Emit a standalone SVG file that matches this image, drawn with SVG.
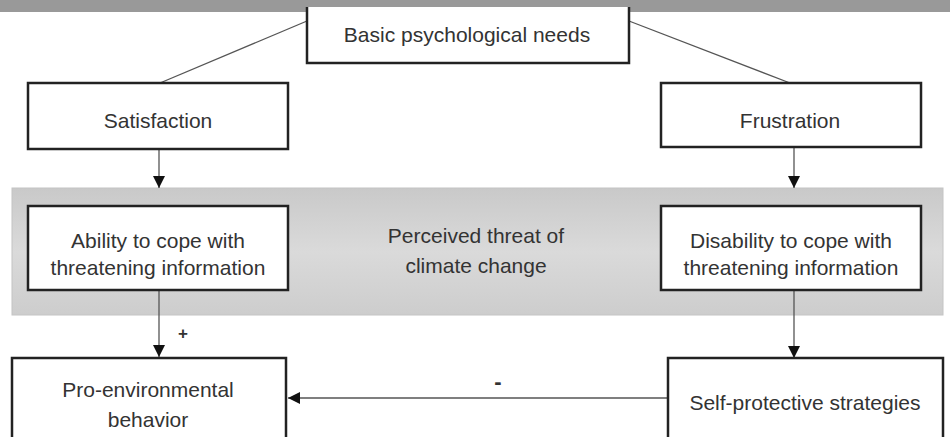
<svg xmlns="http://www.w3.org/2000/svg" width="950" height="437" viewBox="0 0 950 437">
<style>
.box{fill:#fff;stroke:#222;stroke-width:2.5}
.t{font-family:"Liberation Sans",Arial,sans-serif;font-size:21px;fill:#333;text-anchor:middle}
.c{stroke:#555;stroke-width:1.3;fill:none}
.sign{font-family:"Liberation Sans",Arial,sans-serif;font-weight:bold;fill:#333;text-anchor:middle}
</style>
<defs>
<linearGradient id="band" x1="0" y1="0" x2="0" y2="1">
<stop offset="0" stop-color="#c9c9c9"/>
<stop offset="0.5" stop-color="#dadada"/>
<stop offset="1" stop-color="#cdcdcd"/>
</linearGradient>
<marker id="ah" viewBox="0 0 12 12" refX="12" refY="6" markerWidth="12" markerHeight="12" markerUnits="userSpaceOnUse" orient="auto">
<path d="M0,0 L12,6 L0,12 Z" fill="#111"/>
</marker>
</defs>
<rect x="0" y="0" width="950" height="437" fill="#fff"/>
<rect x="0" y="0" width="950" height="12" fill="#999"/>
<g id="band-threat">
<rect x="12" y="188" width="931" height="127" fill="url(#band)" stroke="#c4c4c4" stroke-width="1"/>
<text class="t" x="476" y="243">Perceived threat of</text>
<text class="t" x="476" y="273">climate change</text>
</g>
<g id="connectors">
<line class="c" x1="307" y1="21" x2="160" y2="83"/>
<line class="c" x1="629" y1="21" x2="790" y2="83"/>
<line class="c" x1="159" y1="149" x2="159" y2="188" marker-end="url(#ah)"/>
<line class="c" x1="794" y1="147" x2="794" y2="188" marker-end="url(#ah)"/>
<line class="c" x1="159" y1="290" x2="159" y2="357" marker-end="url(#ah)"/>
<line class="c" x1="794" y1="290" x2="794" y2="358" marker-end="url(#ah)"/>
<line class="c" x1="668" y1="398" x2="288" y2="398" marker-end="url(#ah)"/>
<text class="sign" x="183" y="339" style="font-size:17px">+</text>
<text class="sign" x="498" y="389" style="font-size:22px">-</text>
</g>
<g id="basic-needs">
<path class="box" d="M307,7 V63 H629 V7"/>
<text class="t" x="467" y="42">Basic psychological needs</text>
</g>
<g id="satisfaction">
<rect class="box" x="28" y="83" width="260" height="66"/>
<text class="t" x="158" y="128">Satisfaction</text>
</g>
<g id="frustration">
<rect class="box" x="661" y="83" width="260" height="64"/>
<text class="t" x="790" y="128">Frustration</text>
</g>
<g id="ability">
<rect class="box" x="28" y="206" width="260" height="84"/>
<text class="t" x="158" y="248">Ability to cope with</text>
<text class="t" x="158" y="275">threatening information</text>
</g>
<g id="disability">
<rect class="box" x="661" y="206" width="260" height="84"/>
<text class="t" x="791" y="248">Disability to cope with</text>
<text class="t" x="791" y="275">threatening information</text>
</g>
<g id="pro-env">
<rect class="box" x="12" y="358" width="274" height="90"/>
<text class="t" x="148" y="397">Pro-environmental</text>
<text class="t" x="148" y="427">behavior</text>
</g>
<g id="self-protective">
<rect class="box" x="668" y="358" width="275" height="90"/>
<text class="t" x="805" y="410">Self-protective strategies</text>
</g>
</svg>
